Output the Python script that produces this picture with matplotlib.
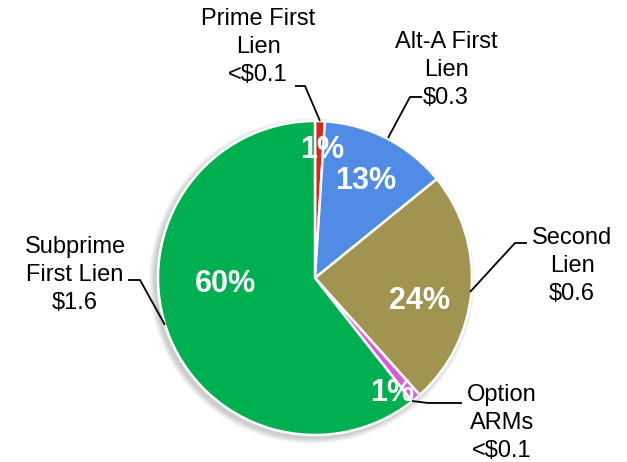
import matplotlib
matplotlib.use("Agg")
import matplotlib.pyplot as plt
from matplotlib.patches import Circle

plt.rcParams['font.family'] = ['Liberation Sans', 'DejaVu Sans']

# Losses by mortgage category (share of total and dollar amount)
categories = ["Prime First\nLien", "Alt-A First\nLien", "Second\nLien", "Option\nARMs", "Subprime\nFirst Lien"]
amounts = ["<$0.1", "$0.3", "$0.6", "<$0.1", "$1.6"]
shares = [1, 13, 24, 1, 60]
pct_labels = ["1%", "13%", "24%", "1%", "60%"]
colors = ["#D42A17", "#508CE6", "#A19451", "#D95BD9", "#00AF50"]

W, H = 627, 462
fig = plt.figure(figsize=(W / 100, H / 100), dpi=100)
ax = fig.add_axes([0, 0, 1, 1])

def py(y):
    return H - y

cx, cy, R = 315, py(278), 157

wedges, _ = ax.pie(shares, colors=colors, startangle=90, counterclock=False,
                   center=(cx, cy), radius=R,
                   wedgeprops=dict(edgecolor="white", linewidth=1.8))
for w in wedges:
    w.set_zorder(2)

# soft shadow behind the pie
for i in range(10):
    ax.add_patch(Circle((cx - 3, cy - 3), R + 6 - i * 0.6, color="black",
                        alpha=0.018, lw=0, zorder=0))

ax.set_xlim(0, W)
ax.set_ylim(0, H)
ax.set_aspect("equal")
ax.axis("off")

# percentage labels inside the slices
pct_pos = [(322, 150), (366, 181), (420, 301), (392, 393), (225, 284)]
for txt, (x, y) in zip(pct_labels, pct_pos):
    ax.text(x, py(y), txt, color="white", fontsize=22, fontweight="bold",
            ha="center", va="center", zorder=4)

# category labels with leader lines
label_pos = [(258, 47), (446, 70), (572, 266), (502, 423), (75, 275)]
leaders = [
    [(295, 86), (305, 86), (320, 121)],
    [(422, 97), (410, 97), (388, 138)],
    [(527, 243), (515, 243), (470, 292)],
    [(462, 403), (428, 403), (412, 401)],
    [(128, 280), (140, 280), (165, 325)],
]
for cat, amt, (x, y), pts in zip(categories, amounts, label_pos, leaders):
    ax.text(x, py(y), cat + "\n" + amt, fontsize=17, ha="center", va="center",
            linespacing=1.38, color="black", zorder=5)
    xs = [p[0] for p in pts]
    ys = [py(p[1]) for p in pts]
    ax.plot(xs, ys, color="black", lw=1.3, zorder=3, solid_capstyle="butt")

fig.savefig("out.png", dpi=100)
